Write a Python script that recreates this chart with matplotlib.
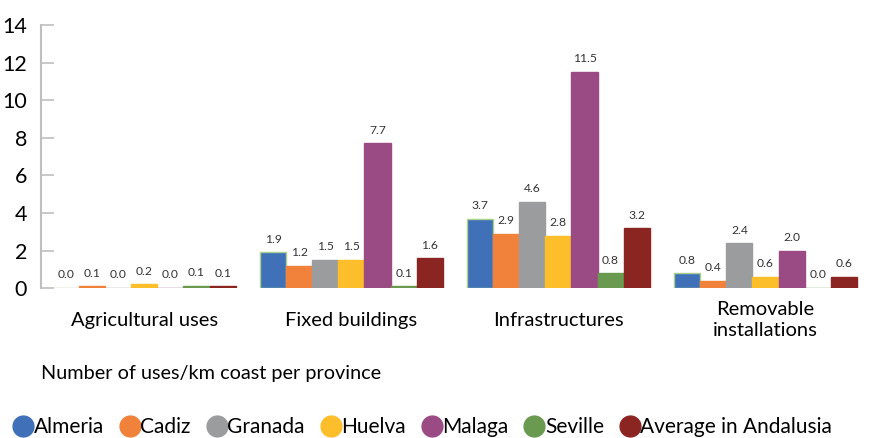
import matplotlib.pyplot as plt
import numpy as np
from matplotlib.lines import Line2D

plt.rcParams['font.family'] = ['Lato', 'DejaVu Sans']

categories = ['Agricultural uses', 'Fixed buildings', 'Infrastructures', 'Removable\ninstallations']
provinces = ['Almeria', 'Cadiz', 'Granada', 'Huelva', 'Malaga', 'Seville', 'Average in Andalusia']
colors = ['#3F70B8', '#F0823C', '#9A9C9D', '#FDBE2B', '#9A4B84', '#6A9A50', '#8A2522']

# rows = province, columns = category
almeria = [0.02, 1.9, 3.7, 0.8]
cadiz = [0.1, 1.2, 2.9, 0.4]
granada = [0.01, 1.5, 4.6, 2.4]
huelva = [0.2, 1.5, 2.8, 0.6]
malaga = [0.02, 7.7, 11.5, 2.0]
seville = [0.12, 0.1, 0.8, 0.02]
average = [0.1, 1.6, 3.2, 0.6]
values = [almeria, cadiz, granada, huelva, malaga, seville, average]

fig = plt.figure(figsize=(8.69, 4.38), dpi=100)
ax = fig.add_axes([0.047, 0.342, 0.953, 0.601])

x = np.arange(len(categories))
w = 0.126
for i, (name, vals) in enumerate(zip(provinces, values)):
    pos = x + (i - 3) * w
    edge = '#A9D18E' if i == 0 else colors[i]
    ax.bar(pos, vals, width=w, color=colors[i], edgecolor=edge, linewidth=1.0)
    for px, v in zip(pos, vals):
        ax.text(px, v + 0.4, f'{v:.1f}', ha='center', va='bottom', fontsize=8.7, color='#333333')

ax.set_xlim(-0.5, 3.5)
ax.set_ylim(0, 14)
ax.set_yticks(range(0, 15, 2))
for s in ['top', 'right', 'bottom']:
    ax.spines[s].set_visible(False)
ax.spines['left'].set_color('#BFBFBF')
ax.spines['left'].set_linewidth(1.5)
ax.tick_params(axis='y', direction='in', length=9, width=1.2, color='#BFBFBF',
               labelsize=15.5, pad=10)
ax.set_xticks(x)
ax.set_xticklabels(categories, fontsize=14.5, linespacing=1.3, va='center')
ax.tick_params(axis='x', length=0, pad=23)

fig.text(0.047, 0.148, 'Number of uses/km coast per province', fontsize=14.3, va='center')

handles = [Line2D([], [], marker='o', linestyle='', markersize=15, color=c) for c in colors]
fig.legend(handles, provinces, loc='center left', bbox_to_anchor=(0.005, 0.024), ncol=7,
           frameon=False, fontsize=15, handletextpad=0.0, columnspacing=0.75,
           handlelength=1.0, borderaxespad=0)

fig.savefig('out.png', dpi=100)
